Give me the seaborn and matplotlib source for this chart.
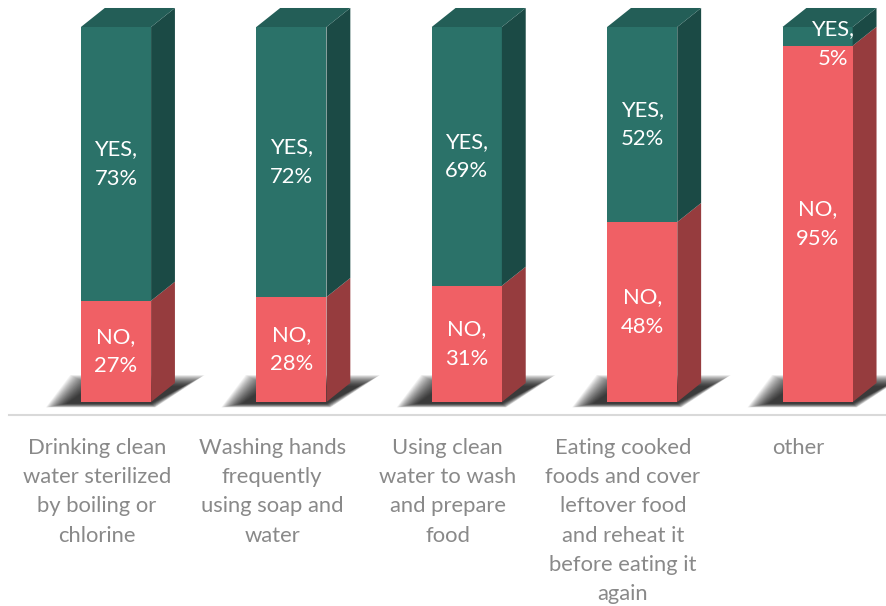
import matplotlib
matplotlib.use("Agg")
import matplotlib.pyplot as plt
from matplotlib.patches import Polygon
import numpy as np
import pandas as pd
import seaborn as sns

categories = [
    "Drinking clean\nwater sterilized\nby boiling or\nchlorine",
    "Washing hands\nfrequently\nusing soap and\nwater",
    "Using clean\nwater to wash\nand prepare\nfood",
    "Eating cooked\nfoods and cover\nleftover food\nand reheat it\nbefore eating it\nagain",
    "other",
]
yes_pct = [73, 72, 69, 52, 5]
no_pct = [27, 28, 31, 48, 95]

TEAL, TEAL_TOP, TEAL_SIDE = "#2B7269", "#235E57", "#1B4A45"
RED, RED_SIDE = "#F06065", "#963C3E"
LABEL_GREY = "#898989"
FS = 15.8
LS = 1.58

sns.set_theme(style="white")
plt.rcParams["font.family"] = ["Lato", "DejaVu Sans"]

df = pd.DataFrame({"category": categories, "yes": yes_pct, "no": no_pct})
df["total"] = df["yes"] + df["no"]

fig = plt.figure(figsize=(8.86, 6.06), dpi=100)
ax = fig.add_axes([9 / 886, 191 / 606, 877 / 886, 415 / 606])

BAR_W = 0.40
SHIFT = 0.11          # perspective shift of the front face
DX, DY = 0.136, 5.07  # depth of the bars in data units

sns.barplot(data=df, x="category", y="total", color=TEAL, width=BAR_W,
            saturation=1, ax=ax, zorder=3)
n_total = len(ax.patches)
sns.barplot(data=df, x="category", y="no", color=RED, width=BAR_W,
            saturation=1, ax=ax, zorder=4)

fronts_total = ax.patches[:n_total]
fronts_no = ax.patches[n_total:]
for p in ax.patches:
    p.set_x(p.get_x() + SHIFT)
    p.set_linewidth(0)


def soft_shadow(left, right, z):
    """Blurred floor shadow cast behind and left of a bar."""
    layers = 26
    for k in range(layers):
        t = k / (layers - 1)
        grow = 0.12 * (1 - t)
        gy = 3.0 * (1 - t)
        pts = [
            (left - 0.08 - grow, -0.4 - gy * 0.35),
            (right + grow * 0.2, -0.4 - gy * 0.35),
            (right + DX + 0.05 + grow, 4.2 + gy),
            (left + 0.06 - grow, 4.2 + gy),
        ]
        ax.add_patch(Polygon(pts, closed=True, facecolor="black",
                             edgecolor="none", alpha=0.05, zorder=z))


for pt, pn, y_val, n_val in zip(fronts_total, fronts_no, yes_pct, no_pct):
    L = pt.get_x()
    R = L + pt.get_width()
    top = pt.get_height()
    nh = pn.get_height()
    soft_shadow(L, R, 1)
    # side faces
    ax.add_patch(Polygon([(R, 0), (R + DX, DY), (R + DX, nh + DY), (R, nh)],
                         closed=True, facecolor=RED_SIDE, edgecolor="none", zorder=3))
    ax.add_patch(Polygon([(R, nh), (R + DX, nh + DY), (R + DX, top + DY), (R, top)],
                         closed=True, facecolor=TEAL_SIDE, edgecolor="none", zorder=3))
    # top face
    ax.add_patch(Polygon([(L, top), (R, top), (R + DX, top + DY), (L + DX, top + DY)],
                         closed=True, facecolor=TEAL_TOP, edgecolor="none", zorder=3))

    cx = L + pt.get_width() / 2
    ax.text(cx, nh / 2, f"NO,\n{n_val}%", ha="center", va="center",
            color="white", fontsize=FS, linespacing=LS, zorder=6)
    if y_val >= 15:
        ax.text(cx, nh + y_val / 2, f"YES,\n{y_val}%", ha="center", va="center",
                color="white", fontsize=FS, linespacing=LS, zorder=6)
    else:
        ax.text(cx + 0.085, nh + y_val / 2 - 2, f"YES,\n{y_val}%", ha="center",
                va="center", color="white", fontsize=FS, linespacing=LS, zorder=6)

ax.set_xlim(-0.5, 4.5)
ax.set_ylim(-3.47, 107.2)
ax.set_xlabel("")
ax.set_ylabel("")
ax.set_yticks([])
for side in ["top", "left", "right"]:
    ax.spines[side].set_visible(False)
ax.spines["bottom"].set_color("#D9D9D9")
ax.spines["bottom"].set_linewidth(1.5)
ax.tick_params(axis="x", length=0, pad=16.5, labelsize=FS, labelcolor=LABEL_GREY)
for lbl in ax.get_xticklabels():
    lbl.set_linespacing(LS)
    lbl.set_va("top")

fig.savefig("out.png", dpi=100, facecolor="white")
